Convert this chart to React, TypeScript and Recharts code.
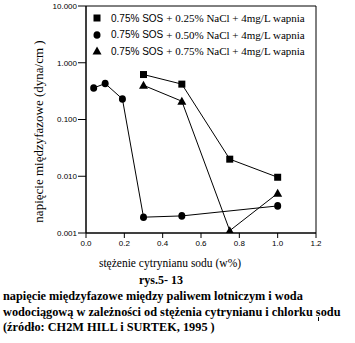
import { LineChart, Line, XAxis, YAxis, ReferenceArea } from 'recharts';

// wartości (rys. 5-13)
const xTicks = [0, 0.2, 0.4, 0.6, 0.8, 1.0, 1.2];
const yTicks = [0.001, 0.01, 0.1, 1, 10];

const squareX = [0.3, 0.5, 0.75, 1.0];
const squareY = [0.62, 0.42, 0.02, 0.0096];

const circleX = [0.04, 0.1, 0.19, 0.3, 0.5, 1.0];
const circleY = [0.36, 0.43, 0.23, 0.0019, 0.002, 0.003];

const triangleX = [0.3, 0.5, 0.75, 1.0];
const triangleY = [0.4, 0.21, 0.0011, 0.005];

const seriesNames = [
  { sos: '0.75% SOS', rest: '+ 0.25% NaCl + 4mg/L wapnia', marker: 'square' },
  { sos: '0.75% SOS', rest: '+ 0.50% NaCl + 4mg/L wapnia', marker: 'circle' },
  { sos: '0.75% SOS', rest: '+ 0.75% NaCl + 4mg/L wapnia', marker: 'triangle' },
];

const zip = (xs: number[], ys: number[]) => xs.map((x, i) => ({ x, y: ys[i] }));

const squareData = zip(squareX, squareY);
const circleData = zip(circleX, circleY);
const triangleData = zip(triangleX, triangleY);

const SERIF = "'Liberation Serif', 'DejaVu Serif', serif";
const SANS = "'Liberation Sans', Arial, sans-serif";

function Marker({ kind, cx, cy }: { kind: string; cx: number; cy: number }) {
  if (kind === 'square') return <rect x={cx - 3.5} y={cy - 3.5} width={7} height={7} fill="#000" />;
  if (kind === 'circle') return <ellipse cx={cx} cy={cy} rx={3.5} ry={3.8} fill="#000" />;
  return <polygon points={`${cx},${cy - 4.5} ${cx + 4.5},${cy + 3.5} ${cx - 4.5},${cy + 3.5}`} fill="#000" />;
}

const dotFor = (kind: string) => (props: any) => {
  const { cx, cy, index } = props;
  if (cx == null || cy == null) return <g key={index} />;
  return <Marker key={index} kind={kind} cx={cx} cy={cy} />;
};

function LegendBox() {
  return (
    <div style={{ position: 'absolute', left: 91, top: 10, width: 218, overflow: 'hidden', whiteSpace: 'nowrap' }}>
      {seriesNames.map((s) => (
        <div key={s.rest} style={{ height: 16.5, display: 'flex', alignItems: 'center' }}>
          <svg width={14} height={12} style={{ marginRight: 6 }}>
            <Marker kind={s.marker} cx={6} cy={6} />
          </svg>
          <span style={{ fontFamily: SANS, fontSize: 10, color: '#000', marginRight: 3 }}>{s.sos}</span>
          <span style={{ fontFamily: SERIF, fontSize: 11, color: '#000' }}>{s.rest}</span>
        </div>
      ))}
    </div>
  );
}

function YLabel(props: any) {
  const { viewBox } = props;
  const cx = 38;
  const cy = viewBox.y + viewBox.height / 2 + 12;
  return (
    <text
      x={cx}
      y={cy}
      transform={`rotate(-90 ${cx} ${cy})`}
      textAnchor="middle"
      dominantBaseline="central"
      style={{ fontFamily: SERIF, fontSize: 13 }}
      fill="#000"
    >
      napięcie międzyfazowe (dyna/cm )
    </text>
  );
}

export default function App() {
  return (
    <div style={{ position: 'absolute', left: 0, top: 0, width: 355, height: 343, background: '#fff' }}>
      <LineChart width={355} height={260} margin={{ top: 6, right: 39, left: 0, bottom: 0 }}>
        <XAxis
          type="number"
          dataKey="x"
          domain={[0, 1.2]}
          ticks={xTicks}
          allowDataOverflow
          tickFormatter={(v: number) => v.toFixed(1)}
          tick={{ fontFamily: SANS, fontSize: 8, fill: '#000' }}
          tickSize={5}
          tickMargin={2}
          stroke="#000"
          height={27}
        />
        <YAxis
          type="number"
          dataKey="y"
          scale="log"
          domain={[0.001, 10]}
          ticks={yTicks}
          allowDataOverflow
          tickFormatter={(v: number) => v.toFixed(3)}
          tick={{ fontFamily: SANS, fontSize: 8, fill: '#000' }}
          tickSize={8}
          tickMargin={1}
          stroke="#000"
          width={86}
          label={<YLabel />}
        />
        <ReferenceArea x1={0} x2={1.2} y1={0.001} y2={10} fill="none" stroke="#000" strokeWidth={1} />
        <Line data={squareData} dataKey="y" stroke="#000" strokeWidth={1} isAnimationActive={false} dot={dotFor('square')} activeDot={false} />
        <Line data={circleData} dataKey="y" stroke="#000" strokeWidth={1} isAnimationActive={false} dot={dotFor('circle')} activeDot={false} />
        <Line data={triangleData} dataKey="y" stroke="#000" strokeWidth={1} isAnimationActive={false} dot={dotFor('triangle')} activeDot={false} />
      </LineChart>
      <LegendBox />

      <div style={{ position: 'absolute', left: 0, width: 340, top: 256, textAlign: 'center', fontFamily: SERIF, fontSize: 11.5, lineHeight: '14px', color: '#000' }}>
        stężenie cytrynianu sodu (w%)
      </div>
      <div style={{ position: 'absolute', left: 0, width: 322, top: 273, textAlign: 'center', fontFamily: SERIF, fontWeight: 'bold', fontSize: 12, lineHeight: '14px', color: '#000' }}>
        rys.5- 13
      </div>
      <div style={{ position: 'absolute', left: 3, top: 289, fontFamily: SERIF, fontWeight: 'bold', fontSize: 12.3, lineHeight: '15.5px', color: '#000', whiteSpace: 'nowrap' }}>
        <div>napięcie międzyfazowe między paliwem lotniczym i woda</div>
        <div>wodociągową w zależności od stężenia cytrynianu i chlorku sodu</div>
        <div>(źródło: CH2M HILL i SURTEK, 1995 )</div>
      </div>
      <div style={{ position: 'absolute', left: 318, top: 317, width: 1, height: 4, background: '#000' }} />
    </div>
  );
}
